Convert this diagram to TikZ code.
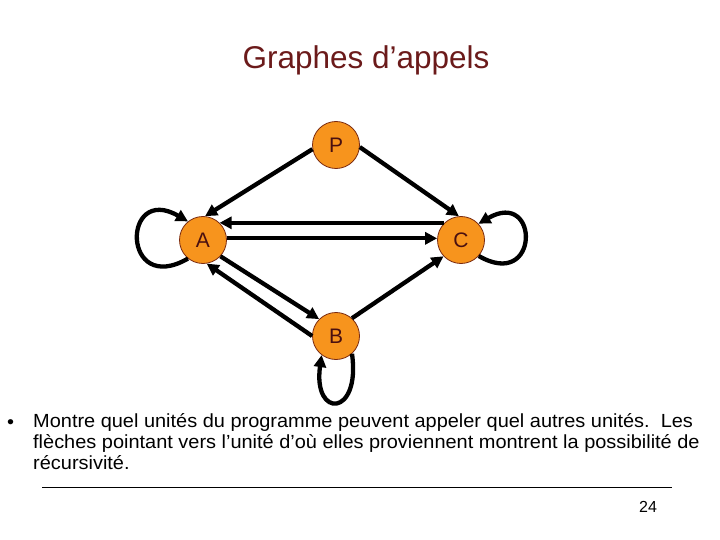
\documentclass[tikz,border=0pt]{standalone}
\usepackage{fontspec}
\setmainfont{Liberation Sans}
\newfontfamily\bodyfont[FakeStretch=1.05]{Liberation Sans}
\usetikzlibrary{arrows.meta}
\definecolor{titlered}{HTML}{6B1A1A}
\definecolor{nodeorange}{HTML}{F7941D}
\definecolor{nodeline}{HTML}{7A2A10}
\definecolor{labelred}{HTML}{4A1010}
\tikzset{
  unit/.style={circle, draw=nodeline, line width=0.8pt, fill=nodeorange, minimum size=47pt, inner sep=0pt, text=labelred, font=\fontsize{21}{21}\selectfont},
  call/.style={line width=4.3pt, -{Triangle[length=12pt,width=12pt]}},
}
\begin{document}
\begin{tikzpicture}[x=1pt,y=-1pt]
\useasboundingbox (0,0) rectangle (720,540);
\node[text=titlered, font=\fontsize{31.5}{31.5}\selectfont] (title) at (366,60) {Graphes d’appels};

\node[unit] (P) at (336,145) {P};
\node[unit] (A) at (203,240) {A};
\node[unit] (C) at (461,240) {C};
\node[unit] (B) at (336,336) {B};

% P calls
\draw[call] (P.190) -- (A.85);
\draw[call] (P.-5) -- (C.95);
% A <-> C
\draw[call] (C.134) -- (A.46);
\draw[call] (A.4) -- (C.176);
% A <-> B
\draw[call] (A.-43) -- (B.135);
\draw[call] (B.180) -- (A.-81);
% B -> C
\draw[call] (B.48) -- (C.223);
% self loops
\draw[call] (A.231) to[out=210,in=150,looseness=5.3] (A.129);
\draw[call] (C.-42) to[out=-30,in=30,looseness=5.6] (C.43);
\draw[call] (B.-48) to[out=-82,in=-98,looseness=5.4] (B.-127);

\node[anchor=base west, font=\bodyfont\fontsize{19}{21}\selectfont, inner sep=0pt] (bullet) at (7,428) {•};
\node[anchor=north west, font=\bodyfont\fontsize{19}{21}\selectfont, inner sep=0pt, align=left] (body) at (33,413)
{Montre quel unités du programme peuvent appeler quel autres unités.\ \ Les\\
flèches pointant vers l’unité d’où elles proviennent montrent la possibilité de\\
récursivité.};
\coordinate (r1) at (42,487);
\coordinate (r2) at (672,487);
\draw[line width=0.8pt] (r1) -- (r2);
\node[font=\fontsize{16}{16}\selectfont] (num) at (648,507) {24};
\end{tikzpicture}
\end{document}
